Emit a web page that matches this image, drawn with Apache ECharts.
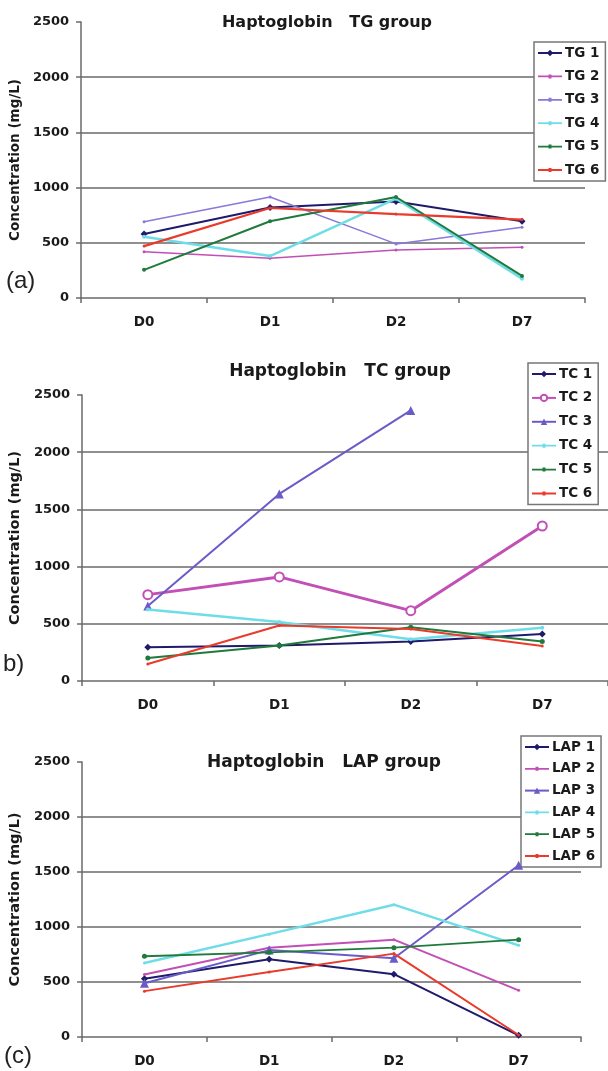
<!DOCTYPE html>
<html><head><meta charset="utf-8">
<script src="https://cdn.jsdelivr.net/npm/echarts@6/dist/echarts.min.js"></script>
<style>html,body{margin:0;padding:0;background:#fff}#c{width:608px;height:1071px}</style>
</head><body><div id="c"></div>
<script>
const categories = ['D0', 'D1', 'D2', 'D7'];
const yTicks = [0, 500, 1000, 1500, 2000, 2500];

const tgNames = ['TG 1', 'TG 2', 'TG 3', 'TG 4', 'TG 5', 'TG 6'];
const tg1 = [580, 820, 875, 695];
const tg2 = [420, 360, 435, 460];
const tg3 = [690, 915, 490, 640];
const tg4 = [555, 380, 900, 175];
const tg5 = [255, 695, 915, 200];
const tg6 = [470, 815, 760, 710];

const tcNames = ['TC 1', 'TC 2', 'TC 3', 'TC 4', 'TC 5', 'TC 6'];
const tc1 = [295, 310, 345, 410];
const tc2 = [755, 910, 615, 1355];
const tc3 = [655, 1635, 2365, null];
const tc4 = [625, 515, 365, 465];
const tc5 = [200, 310, 470, 345];
const tc6 = [148, 485, 455, 305];

const lapNames = ['LAP 1', 'LAP 2', 'LAP 3', 'LAP 4', 'LAP 5', 'LAP 6'];
const lap1 = [530, 707, 571, 15];
const lap2 = [568, 812, 885, 424];
const lap3 = [488, 790, 716, 1562];
const lap4 = [673, 935, 1203, 833];
const lap5 = [734, 770, 812, 885];
const lap6 = [417, 590, 758, 18];

const titles = ['Haptoglobin   TG group', 'Haptoglobin   TC group', 'Haptoglobin   LAP group'];
const panelTags = ['(a)', 'b)', '(c)'];

const FONT = 'DejaVu Sans';
const AXC = '#6a6a6a';
// legend icon: line with a small marker
const SMALL_ICON = 'path://M0,3.6 L24,3.6 L24,5.4 L0,5.4 Z M10.5,2.5 L13.5,2.5 L13.5,6.5 L10.5,6.5 Z';

const grids = [
  {left: 76, top: 22, width: 509, height: 276},
  {left: 80, top: 395, width: 528, height: 286},
  {left: 76, top: 762, width: 505, height: 275}
];
const nameSize = [13.5, 14.5, 14.5];
const nameGap = [44, 43, 42];
const titleSize = [16, 17, 17];
const titlePos = [{x: 322, y: 10}, {x: 335, y: 358}, {x: 319, y: 749}];
const legendPos = [
  {left: 534, top: 42, gap: 9.4},
  {left: 528, top: 363, gap: 9.9},
  {left: 521, top: 736, gap: 7.8}
];
const tagPos = [{x: 6, y: 283}, {x: 3, y: 666}, {x: 4, y: 1058}];

const groups = [
  {names: tgNames, data: [tg1, tg2, tg3, tg4, tg5, tg6],
   sym: ['diamond', 'circle', 'circle', 'circle', 'circle', 'circle'],
   symSize: [7, 3, 3, 4, 4, 3],
   lw: [2, 1.5, 1.5, 2.5, 2, 2.2],
   col: ['#1f1a6a', '#c24fb6', '#8b78d8', '#6fdde8', '#1f7a3c', '#e93a2c']},
  {names: tcNames, data: [tc1, tc2, tc3, tc4, tc5, tc6],
   sym: ['diamond', 'emptyCircle', 'triangle', 'circle', 'circle', 'circle'],
   symSize: [7, 9, 9, 4, 5, 3],
   lw: [2, 3, 2, 2.5, 2, 2],
   col: ['#1f1a6a', '#c24fb6', '#6a5cc8', '#6fdde8', '#1f7a3c', '#e93a2c']},
  {names: lapNames, data: [lap1, lap2, lap3, lap4, lap5, lap6],
   sym: ['diamond', 'circle', 'triangle', 'circle', 'circle', 'circle'],
   symSize: [7, 3, 9, 3, 5, 3],
   lw: [2, 2, 2, 2.5, 1.8, 2],
   col: ['#1f1a6a', '#c24fb6', '#6a5cc8', '#6fdde8', '#1f7a3c', '#e93a2c']}
];

const option = {
  backgroundColor: '#ffffff',
  animation: false,
  title: [], legend: [], grid: [], xAxis: [], yAxis: [], series: [], graphic: []
};

groups.forEach((g, i) => {
  option.grid.push(Object.assign({containLabel: false}, grids[i]));
  option.title.push({
    text: titles[i], left: titlePos[i].x, top: titlePos[i].y, textAlign: 'center',
    textStyle: {fontFamily: FONT, fontWeight: 'bold', fontSize: titleSize[i], color: '#1a1a1a'}
  });
  option.xAxis.push({
    type: 'category', gridIndex: i, data: categories, boundaryGap: true,
    axisLine: {show: true, lineStyle: {color: AXC, width: 1.5}},
    axisTick: {show: true, length: 5, lineStyle: {color: AXC, width: 1.5}},
    axisLabel: {margin: 17, fontFamily: FONT, fontWeight: 'bold', fontSize: 13.5, color: '#1a1a1a'},
    splitLine: {show: false}
  });
  option.yAxis.push({
    type: 'value', gridIndex: i, min: yTicks[0], max: yTicks[yTicks.length - 1], interval: 500,
    name: 'Concentration (mg/L)', nameLocation: 'middle', nameRotate: 90, nameGap: nameGap[i],
    nameTextStyle: {fontFamily: FONT, fontWeight: 'bold', fontSize: nameSize[i], color: '#1a1a1a'},
    axisLine: {show: true, lineStyle: {color: AXC, width: 1.5}},
    axisTick: {show: true, length: 5, lineStyle: {color: AXC, width: 1.5}},
    axisLabel: {margin: 12, fontFamily: FONT, fontWeight: 'bold', fontSize: 13, color: '#1a1a1a',
      formatter: v => String(v)},
    splitLine: {show: true, showMinLine: false, showMaxLine: false, lineStyle: {color: '#6a6a6a', width: 1.6}}
  });
  option.legend.push({
    data: g.names.map((n, k) => (g.symSize[k] <= 5 ? {name: n, icon: SMALL_ICON} : {name: n})),
    orient: 'vertical', left: legendPos[i].left, top: legendPos[i].top,
    padding: [4, 6, 4, 3], itemGap: legendPos[i].gap, itemWidth: 24, itemHeight: 8,
    backgroundColor: '#ffffff', borderColor: '#777', borderWidth: 1.5, borderRadius: 0,
    textStyle: {fontFamily: FONT, fontWeight: 'bold', fontSize: 13.5, color: '#1a1a1a', lineHeight: 14, padding: [0, 0, 0, -2]}
  });
  g.names.forEach((n, k) => {
    option.series.push({
      type: 'line', name: n, xAxisIndex: i, yAxisIndex: i, data: g.data[k],
      symbol: g.sym[k], symbolSize: g.symSize[k], showSymbol: true, connectNulls: false,
      lineStyle: {color: g.col[k], width: g.lw[k]},
      itemStyle: {color: g.col[k], borderColor: g.col[k], borderWidth: g.sym[k] === 'emptyCircle' ? 2 : 0},
      z: 3 + k
    });
  });
  option.graphic.push({
    type: 'text', left: tagPos[i].x, top: tagPos[i].y - 14,
    style: {text: panelTags[i], fontFamily: 'Liberation Sans', fontSize: 24, fill: '#222'}
  });
});

const chart = echarts.init(document.getElementById('c'), null, {renderer: 'canvas'});
chart.setOption(option);
</script></body></html>
